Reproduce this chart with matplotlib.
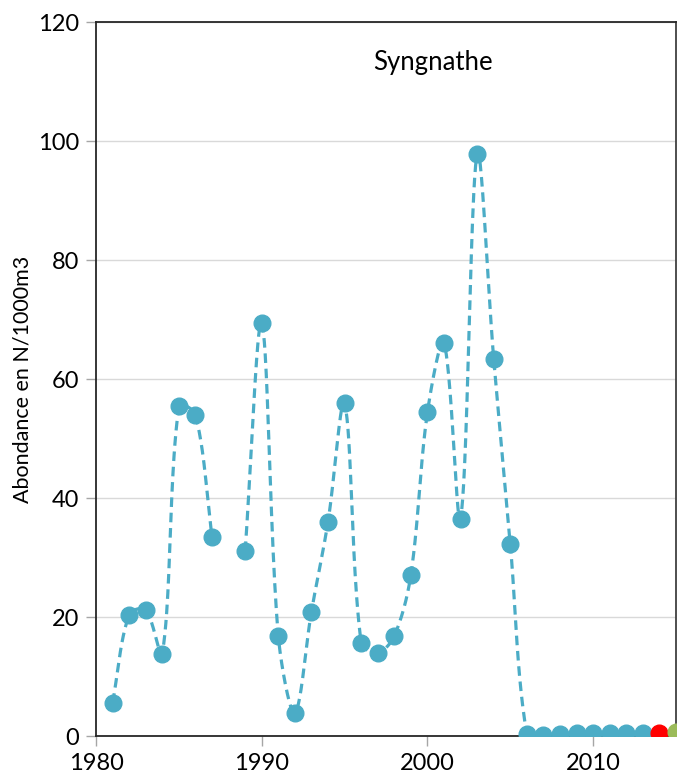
import numpy as np
import matplotlib
matplotlib.use("Agg")
import matplotlib.pyplot as plt

plt.rcParams['font.family'] = ['Lato', 'DejaVu Sans']

# ---- data ----
years_a = [1981, 1982, 1983, 1984, 1985, 1986, 1987]
vals_a = [5.6, 20.4, 21.2, 13.8, 55.4, 54.0, 33.5]
years_b = [1989, 1990, 1991, 1992, 1993, 1994, 1995, 1996, 1997, 1998, 1999,
           2000, 2001, 2002, 2003, 2004, 2005, 2006, 2007, 2008, 2009, 2010,
           2011, 2012, 2013]
vals_b = [31.1, 69.4, 16.8, 3.9, 20.9, 36.0, 55.9, 15.7, 14.0, 16.8, 27.1,
          54.4, 66.1, 36.5, 97.9, 63.4, 32.3, 0.3, 0.2, 0.3, 0.5, 0.5,
          0.5, 0.5, 0.5]
year_red = [2014]
val_red = [0.5]
year_green = [2015]
val_green = [0.6]

title = "Syngnathe"
ylabel = "Abondance en N/1000m3"
yticks = [0, 20, 40, 60, 80, 100, 120]
xticks = [1980, 1990, 2000, 2010]

BLUE = "#4BACC6"
RED = "#FF0000"
GREEN = "#9BBB59"


def smooth(ax, xs, ys, n=40):
    # Bezier smoothing computed in display space (chord-length scaled tangents)
    pts = ax.transData.transform(np.column_stack([xs, ys]).astype(float))
    m = len(pts)
    out = []
    for i in range(m - 1):
        p0 = pts[i - 1] if i > 0 else pts[i]
        p1 = pts[i]
        p2 = pts[i + 1]
        p3 = pts[i + 2] if i + 2 < m else pts[i + 1]
        d01 = np.linalg.norm(p1 - p0)
        d12 = np.linalg.norm(p2 - p1)
        d23 = np.linalg.norm(p3 - p2)
        f1 = d12 / (3.0 * (d01 + d12)) if d01 + d12 > 0 else 0
        f2 = d12 / (3.0 * (d12 + d23)) if d12 + d23 > 0 else 0
        b1 = p1 + (p2 - p0) * f1
        b2 = p2 - (p3 - p1) * f2
        t = np.linspace(0, 1, n)[:, None]
        seg = ((1 - t) ** 3) * p1 + 3 * ((1 - t) ** 2) * t * b1 + 3 * (1 - t) * t ** 2 * b2 + t ** 3 * p2
        if i > 0:
            seg = seg[1:]
        out.append(seg)
    c = ax.transData.inverted().transform(np.vstack(out))
    return c[:, 0], c[:, 1]


fig = plt.figure(figsize=(6.8, 7.75), dpi=100)
ax = fig.add_axes([0.1412, 0.0503, 0.8529, 0.9213])
ax.set_xlim(1980, 2015)
ax.set_ylim(0, 120)

for xs, ys in [(years_a, vals_a), (years_b, vals_b)]:
    sx, sy = smooth(ax, xs, ys)
    ax.plot(sx, sy, color=BLUE, lw=2.3, ls=(0, (3.0, 1.8)), zorder=2)
    ax.plot(xs, ys, 'o', color=BLUE, ms=12, mec=BLUE, zorder=3)

ax.plot(year_red, val_red, 'o', color=RED, ms=12, mec=RED, zorder=3)
ax.plot(year_green, val_green, 'o', color=GREEN, ms=12, mec=GREEN, zorder=3)

ax.set_xticks(xticks)
ax.set_yticks(yticks)
ax.yaxis.grid(True, color="#D9D9D9", lw=1.0)
ax.set_axisbelow(True)

for s in ax.spines.values():
    s.set_color("#262626")
    s.set_linewidth(1.3)
ax.spines['right'].set_color("#404040")

ax.tick_params(axis='both', direction='out', length=7, width=1.0, color="#A6A6A6",
               labelsize=17, labelcolor="black", pad=5)

ax.set_ylabel(ylabel, fontsize=15.5, labelpad=4)
ax.text(0.581, 0.943, title, transform=ax.transAxes, fontsize=18.5,
        ha='center', va='center')

fig.savefig("out.png", dpi=100)
